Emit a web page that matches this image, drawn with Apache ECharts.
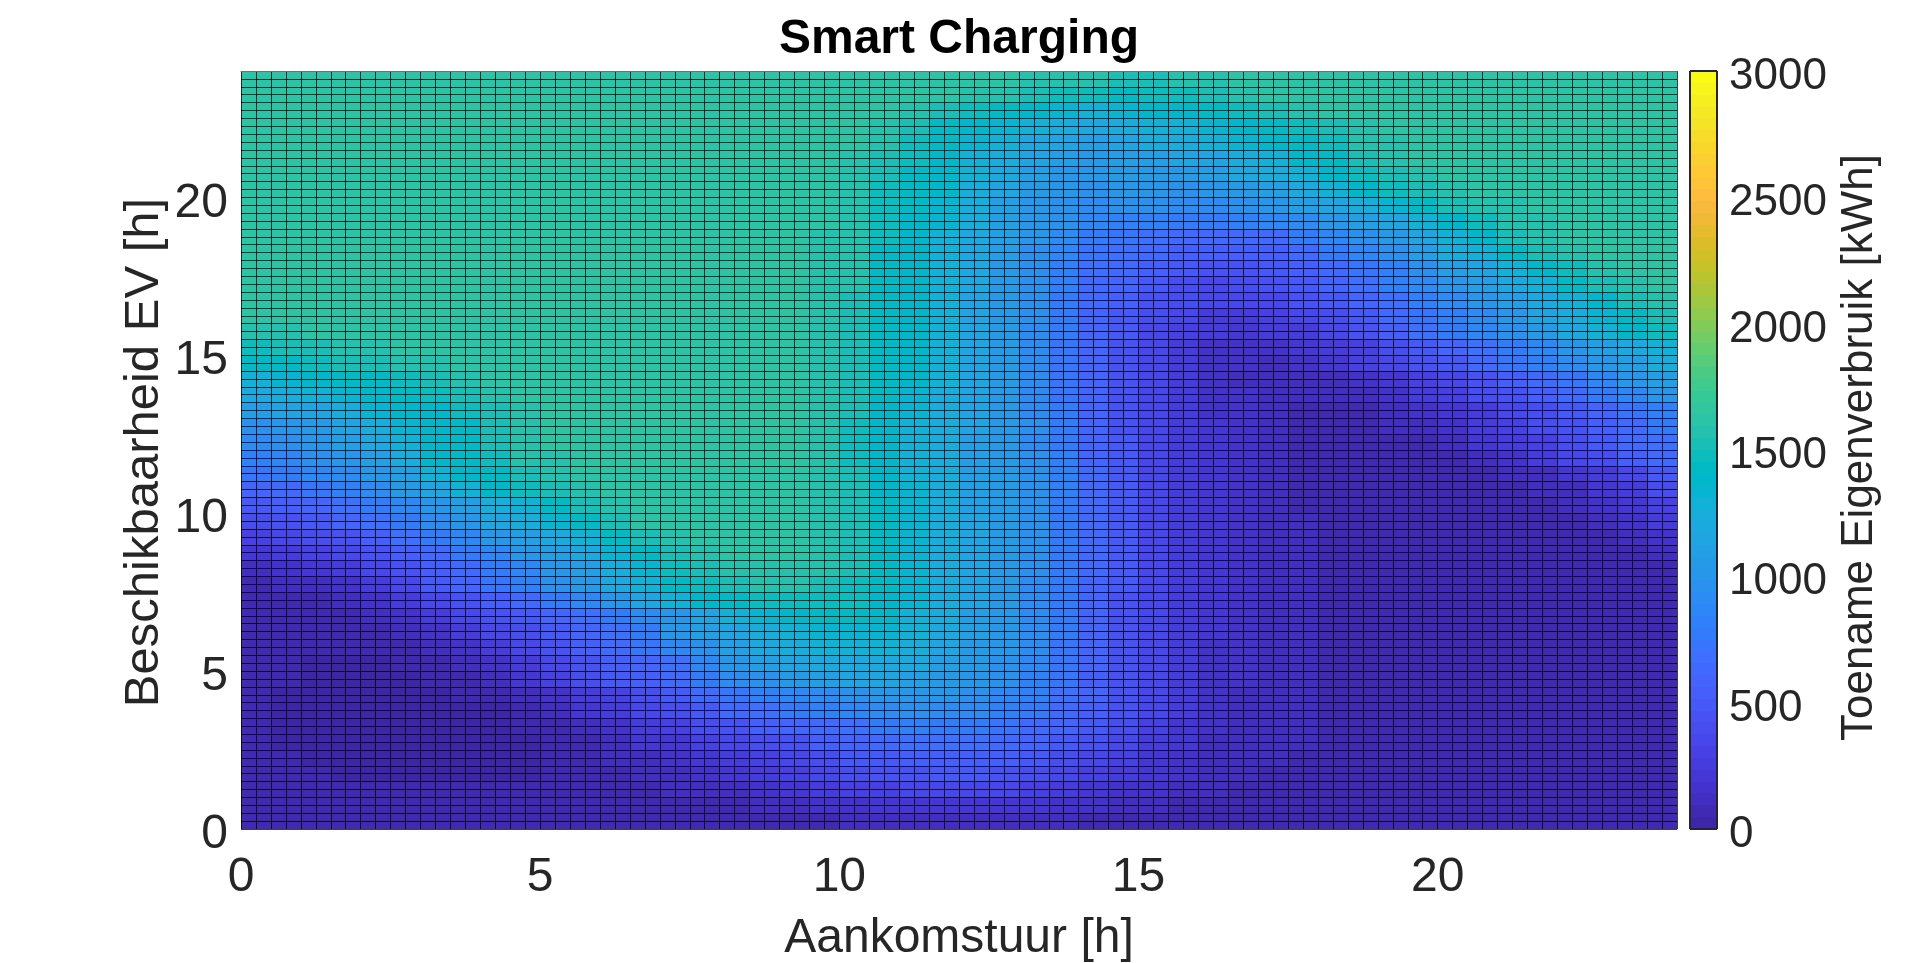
<!DOCTYPE html>
<html>
<head>
<meta charset="utf-8">
<title>Smart Charging</title>
<script src="https://cdn.jsdelivr.net/npm/echarts@6/dist/echarts.min.js"></script>
<style>
html, body { margin: 0; height: 100%; background: #fff; }
#main { width: 1920px; height: 963px; }
</style>
</head>
<body>
<div id="main"></div>
<script>
// kWh per half-hour block, estimated by eye from the colours of the reference.
// The reference has quarter-hour cells; these are coarser. Top row is 23.5-24 h.
const rows = [
[1620,1620,1620,1620,1620,1620,1620,1620,1620,1620,1620,1620,1620,1620,1620,1620,1620,1620,1620,1620,1620,1620,1620,1620,1610,1600,1580,1560,1550,1540,1540,1560,1580,1600,1620,1620,1620,1620,1620,1620,1620,1620,1620,1620,1620,1620,1620,1620],
[1620,1620,1620,1620,1620,1620,1620,1620,1620,1620,1620,1620,1620,1620,1620,1620,1620,1620,1620,1620,1620,1620,1610,1600,1590,1560,1530,1490,1460,1450,1470,1490,1530,1570,1610,1620,1620,1620,1620,1620,1620,1620,1620,1620,1620,1620,1620,1620],
[1620,1620,1620,1620,1620,1620,1620,1620,1620,1620,1620,1620,1620,1620,1620,1620,1620,1620,1620,1620,1620,1610,1580,1540,1480,1430,1400,1350,1310,1340,1380,1400,1440,1490,1540,1570,1600,1620,1620,1620,1620,1620,1620,1620,1620,1620,1620,1620],
[1620,1620,1620,1620,1620,1620,1620,1620,1620,1620,1620,1620,1620,1620,1620,1620,1620,1620,1620,1620,1610,1570,1500,1430,1370,1330,1280,1220,1190,1250,1300,1310,1340,1370,1410,1490,1540,1590,1620,1620,1620,1620,1620,1620,1620,1620,1620,1620],
[1620,1620,1620,1620,1620,1620,1620,1620,1620,1620,1620,1620,1620,1620,1620,1620,1620,1620,1620,1620,1600,1550,1480,1410,1340,1280,1210,1140,1100,1170,1220,1230,1280,1330,1370,1440,1490,1570,1590,1620,1620,1620,1620,1620,1620,1620,1620,1620],
[1620,1620,1620,1620,1620,1620,1620,1620,1620,1620,1620,1620,1620,1620,1620,1620,1620,1620,1620,1610,1590,1530,1460,1400,1310,1240,1130,1080,1050,1100,1120,1130,1170,1250,1310,1370,1430,1520,1570,1610,1620,1620,1620,1620,1620,1620,1620,1620],
[1620,1620,1620,1620,1620,1620,1620,1620,1620,1620,1620,1620,1620,1620,1620,1620,1620,1620,1620,1610,1580,1510,1440,1380,1280,1190,1090,1020,1000,1050,1070,1070,1110,1190,1230,1310,1380,1470,1520,1570,1600,1620,1620,1620,1620,1620,1620,1620],
[1620,1620,1620,1620,1620,1620,1620,1620,1620,1620,1620,1620,1620,1620,1620,1620,1620,1620,1620,1600,1570,1490,1420,1360,1260,1140,1040,1000,960,1000,1000,980,1000,1060,1110,1200,1280,1370,1460,1520,1570,1600,1620,1620,1620,1620,1620,1620],
[1620,1620,1620,1620,1620,1620,1620,1620,1620,1620,1620,1620,1620,1620,1620,1620,1620,1620,1620,1600,1570,1480,1410,1350,1240,1120,1030,980,930,950,960,900,900,950,1000,1090,1150,1240,1330,1420,1500,1560,1590,1620,1620,1620,1620,1620],
[1620,1620,1620,1620,1620,1620,1620,1620,1620,1620,1620,1620,1620,1620,1620,1620,1620,1620,1620,1600,1570,1470,1400,1320,1220,1110,1020,950,860,840,820,760,760,800,850,920,1000,1080,1170,1280,1400,1470,1560,1590,1620,1620,1620,1620],
[1620,1620,1620,1620,1620,1620,1620,1620,1620,1620,1620,1620,1620,1620,1620,1620,1620,1620,1620,1590,1560,1460,1400,1310,1210,1100,990,900,770,720,690,640,620,620,650,760,860,950,1040,1160,1300,1380,1500,1580,1610,1620,1620,1620],
[1620,1620,1620,1620,1620,1620,1620,1620,1620,1620,1620,1620,1620,1620,1620,1620,1620,1620,1620,1590,1550,1450,1390,1300,1200,1090,970,860,720,680,620,540,530,530,550,650,760,860,950,1090,1220,1310,1430,1520,1590,1610,1620,1620],
[1620,1620,1620,1620,1620,1620,1620,1620,1620,1620,1620,1620,1620,1620,1620,1620,1620,1620,1620,1590,1550,1440,1390,1290,1190,1070,960,820,700,640,560,500,430,450,470,530,620,730,840,950,1090,1170,1270,1380,1480,1550,1600,1620],
[1620,1620,1620,1620,1620,1620,1620,1620,1620,1620,1620,1620,1620,1620,1620,1620,1620,1620,1620,1590,1550,1430,1390,1280,1180,1060,950,800,640,570,470,410,370,410,450,510,590,690,810,900,1020,1120,1210,1310,1420,1510,1580,1610],
[1610,1620,1620,1620,1620,1620,1620,1620,1620,1620,1620,1620,1620,1620,1620,1620,1620,1620,1620,1590,1540,1440,1380,1280,1170,1060,940,780,610,520,430,390,330,340,370,440,490,590,700,800,900,1000,1090,1200,1300,1400,1510,1580],
[1600,1610,1620,1620,1620,1620,1620,1620,1620,1620,1620,1620,1620,1620,1620,1620,1620,1620,1620,1590,1540,1440,1380,1280,1170,1050,940,760,590,480,390,330,280,280,290,330,400,500,610,720,830,930,1010,1140,1250,1340,1440,1530],
[1570,1590,1610,1620,1620,1620,1620,1620,1620,1620,1620,1620,1620,1620,1620,1620,1620,1620,1620,1590,1530,1430,1380,1280,1170,1040,930,750,580,470,370,310,240,230,240,280,350,440,550,660,780,880,960,1070,1200,1280,1400,1480],
[1490,1510,1530,1560,1590,1610,1620,1620,1620,1620,1620,1620,1620,1620,1620,1620,1620,1620,1620,1590,1530,1430,1380,1280,1170,1040,930,740,570,450,350,260,180,170,170,200,250,320,420,510,580,690,780,890,1000,1110,1200,1310],
[1410,1440,1470,1510,1530,1560,1590,1610,1620,1620,1620,1620,1620,1620,1620,1620,1620,1620,1620,1590,1530,1430,1370,1270,1170,1040,930,740,570,450,340,240,160,150,140,160,210,290,350,460,510,630,710,820,900,1030,1120,1250],
[1300,1350,1380,1420,1450,1490,1520,1560,1600,1610,1620,1620,1620,1620,1620,1620,1620,1620,1620,1590,1520,1430,1360,1270,1170,1040,930,740,570,450,340,240,150,140,120,120,130,170,220,300,350,450,530,630,720,860,990,1090],
[1200,1240,1300,1340,1380,1420,1470,1510,1570,1600,1620,1620,1620,1620,1620,1620,1620,1620,1620,1590,1510,1420,1350,1260,1170,1040,930,740,570,450,340,240,160,150,120,110,110,140,180,250,300,380,450,530,640,750,860,1000],
[1080,1130,1170,1260,1320,1360,1400,1470,1530,1580,1620,1620,1620,1620,1620,1620,1620,1620,1620,1590,1500,1400,1340,1250,1170,1040,930,750,590,450,330,250,180,150,120,90,80,90,120,170,200,270,340,410,500,600,720,840],
[980,1030,1070,1150,1260,1320,1380,1440,1510,1570,1610,1620,1620,1620,1620,1620,1620,1620,1610,1570,1490,1380,1310,1240,1150,1050,950,770,600,460,340,260,190,150,110,80,70,80,100,140,170,240,310,380,450,540,640,770],
[910,960,1010,1080,1200,1270,1370,1420,1500,1560,1600,1620,1620,1620,1620,1620,1620,1620,1610,1570,1490,1380,1300,1220,1120,1040,920,760,590,470,350,270,190,150,110,80,70,70,80,90,120,190,260,320,420,490,610,700],
[800,870,950,1010,1120,1230,1360,1430,1490,1550,1590,1620,1620,1620,1620,1620,1620,1620,1610,1570,1490,1390,1310,1220,1120,1040,940,800,600,470,350,270,190,150,110,80,70,70,70,70,90,140,180,240,330,400,520,620],
[720,780,860,930,1020,1120,1270,1360,1440,1510,1560,1610,1620,1620,1620,1620,1620,1620,1610,1570,1500,1400,1310,1220,1110,1040,950,800,610,480,370,280,190,150,110,80,70,70,70,70,70,90,110,140,200,270,370,470],
[580,640,720,830,920,1040,1170,1290,1390,1470,1530,1590,1620,1620,1620,1620,1620,1620,1620,1580,1510,1400,1320,1230,1120,1040,950,800,620,480,370,280,190,150,110,90,70,70,70,70,70,70,80,110,140,190,280,390],
[500,560,600,660,760,860,1020,1110,1230,1310,1420,1500,1580,1610,1620,1620,1620,1620,1620,1590,1510,1420,1340,1240,1120,1050,950,790,620,480,370,280,190,150,110,90,70,70,70,70,70,70,70,90,110,150,220,300],
[390,440,500,570,680,760,920,1030,1130,1220,1330,1440,1540,1600,1620,1620,1620,1620,1620,1590,1510,1420,1340,1240,1130,1060,950,790,620,480,370,280,190,150,120,100,80,70,70,70,70,70,70,80,90,120,180,240],
[290,330,390,450,540,660,770,880,1000,1090,1210,1310,1420,1510,1580,1610,1620,1620,1620,1590,1510,1420,1340,1250,1140,1060,950,790,610,470,360,270,190,150,120,100,80,70,70,70,70,70,70,70,70,90,130,180],
[210,240,300,350,440,520,620,750,890,990,1110,1210,1320,1420,1540,1580,1600,1610,1610,1580,1510,1430,1350,1250,1140,1060,950,790,610,470,360,270,190,150,120,100,80,70,70,70,70,70,70,70,60,70,90,120],
[120,170,210,270,330,430,520,650,770,890,1010,1110,1240,1330,1460,1530,1570,1590,1590,1570,1510,1430,1340,1250,1140,1060,950,790,610,470,360,270,190,150,120,100,80,70,70,70,70,70,70,60,60,60,60,70],
[80,100,130,180,270,360,480,590,720,810,960,1060,1190,1290,1410,1470,1530,1550,1550,1540,1490,1420,1330,1250,1130,1050,930,780,600,470,350,270,190,150,120,100,80,70,70,70,70,70,70,60,60,60,60,60],
[50,60,80,100,170,240,340,440,550,640,780,870,1030,1130,1270,1360,1430,1460,1480,1480,1470,1400,1320,1240,1130,1050,930,770,590,460,350,270,190,150,120,100,80,70,70,70,70,70,70,60,60,60,60,60],
[50,60,60,80,120,180,260,340,430,510,590,690,790,900,1030,1150,1270,1350,1400,1430,1430,1380,1300,1230,1120,1040,930,770,590,460,350,270,190,150,120,100,80,70,70,70,70,70,70,60,60,60,60,60],
[60,60,60,60,60,110,170,250,340,420,510,590,700,790,990,1080,1170,1250,1310,1340,1350,1330,1270,1190,1090,1020,920,760,590,460,350,270,190,150,120,100,80,70,70,70,70,70,70,60,60,60,60,60],
[60,50,50,50,50,80,110,180,260,350,430,530,610,720,860,980,1090,1190,1240,1280,1300,1280,1230,1160,1060,1000,900,740,580,450,340,260,180,150,120,100,80,70,70,70,70,70,70,60,60,60,50,50],
[50,50,40,40,40,50,70,120,180,280,370,460,540,600,700,860,1000,1080,1150,1190,1200,1200,1180,1110,1040,970,860,720,570,440,330,250,180,150,120,100,80,70,70,70,70,70,70,60,60,60,50,50],
[50,50,40,40,40,40,50,90,130,220,310,390,480,530,610,770,900,980,1060,1100,1130,1130,1120,1070,1010,950,840,710,560,440,330,250,180,150,120,100,80,70,70,70,70,70,70,60,60,60,50,50],
[50,40,40,40,40,40,30,50,60,110,170,270,320,400,490,610,710,800,880,930,960,1000,1020,1000,960,890,800,680,570,440,340,250,170,140,120,100,80,70,70,70,70,70,70,60,60,60,50,50],
[50,40,40,40,40,40,30,40,40,60,110,190,240,330,400,490,610,680,760,830,880,930,950,930,900,840,760,650,550,430,330,240,160,140,110,100,80,70,70,70,70,70,60,60,60,60,50,50],
[50,40,40,40,40,40,40,40,40,50,70,120,180,240,310,380,460,520,570,630,690,750,800,790,760,720,650,570,500,390,300,220,150,130,110,100,80,70,70,70,70,60,60,60,60,60,50,50],
[50,40,40,40,40,40,40,40,40,40,60,90,130,190,230,290,340,400,460,520,590,640,680,680,670,620,570,490,430,340,270,200,140,120,110,100,80,70,70,70,70,60,60,60,60,50,50,50],
[50,50,40,40,40,40,40,40,40,40,50,70,110,140,180,220,270,310,370,420,470,500,550,560,560,520,490,410,360,290,230,170,130,110,100,90,80,70,70,70,70,60,60,60,50,50,50,50],
[50,50,50,40,40,40,40,40,40,40,50,60,80,110,130,170,200,250,310,350,400,430,460,480,480,450,420,350,290,240,190,150,110,100,90,90,70,70,70,60,60,60,60,60,50,50,50,50],
[50,50,50,50,50,50,50,50,50,50,50,60,70,90,100,130,140,180,220,260,290,320,340,360,360,340,310,260,220,180,150,110,100,90,80,80,70,70,60,60,60,60,50,50,50,50,50,50],
[50,50,50,50,50,50,50,50,50,50,50,50,60,60,70,80,90,110,140,160,170,190,200,210,220,210,190,170,150,130,100,90,80,80,70,70,60,60,60,60,60,50,50,50,50,50,50,50],
[50,50,50,50,50,50,50,50,50,50,50,50,50,60,60,60,70,70,80,90,100,110,120,120,120,120,110,100,90,80,70,70,60,60,60,60,60,50,50,50,50,50,50,50,50,50,50,50]
];

const xTicks = [0, 5, 10, 15, 20];
const yTicks = [0, 5, 10, 15, 20];
const barTicks = [0, 500, 1000, 1500, 2000, 2500, 3000];

const parula = [
[.2422,.1504,.6603],[.2504,.1650,.7076],[.2578,.1818,.7511],[.2647,.1978,.7952],
[.2706,.2147,.8364],[.2751,.2342,.8710],[.2783,.2559,.8991],[.2803,.2782,.9221],
[.2813,.3006,.9414],[.2810,.3228,.9579],[.2795,.3447,.9717],[.2760,.3667,.9829],
[.2699,.3892,.9906],[.2602,.4123,.9952],[.2440,.4358,.9988],[.2206,.4603,.9973],
[.1963,.4847,.9892],[.1834,.5074,.9798],[.1786,.5289,.9682],[.1764,.5499,.9520],
[.1687,.5703,.9359],[.1540,.5902,.9218],[.1460,.6091,.9079],[.1380,.6276,.8973],
[.1248,.6459,.8883],[.1113,.6635,.8763],[.0952,.6798,.8598],[.0689,.6948,.8394],
[.0297,.7082,.8163],[.0036,.7197,.7917],[.0067,.7300,.7655],[.0433,.7394,.7397],
[.0964,.7500,.7120],[.1408,.7584,.6842],[.1717,.7670,.6554],[.1938,.7758,.6251],
[.2161,.7843,.5923],[.2470,.7918,.5567],[.2906,.7973,.5188],[.3406,.8008,.4789],
[.3909,.8029,.4354],[.4456,.8024,.3909],[.5044,.7993,.3480],[.5616,.7942,.3045],
[.6174,.7876,.2612],[.6720,.7793,.2227],[.7242,.7698,.1910],[.7738,.7598,.1646],
[.8203,.7498,.1535],[.8634,.7406,.1596],[.9035,.7330,.1774],[.9393,.7288,.2100],
[.9728,.7298,.2394],[.9956,.7434,.2371],[.9970,.7659,.2199],[.9952,.7893,.2028],
[.9892,.8136,.1885],[.9786,.8386,.1766],[.9676,.8639,.1643],[.9610,.8890,.1537],
[.9597,.9135,.1423],[.9628,.9373,.1265],[.9691,.9606,.1064],[.9769,.9839,.0805]
];

const maxValue = 3000;
const levelSize = maxValue / parula.length;
const blockHours = 24 / rows[0].length;
const textColor = "#262626";
const fontFamily = '"Liberation Sans", Arial, sans-serif';

function toCss(c) {
  return "rgb(" + c.map(v => Math.round(v * 255)).join(",") + ")";
}
function colorOf(value) {
  let i = Math.min(parula.length - 1, Math.floor(value / levelSize));
  return toCss(parula[i]);
}

// [start hour x, start hour y, kWh]
let cells = [];
rows.forEach((row, r) => {
  row.forEach((v, c) => {
    cells.push([c * blockHours, (rows.length - 1 - r) * blockHours, v]);
  });
});
let barLevels = parula.map((c, i) => [0, i * levelSize, i]);

function rectFrom(api, x0, y0, x1, y1, fill) {
  let a = api.coord([x0, y1]);
  let b = api.coord([x1, y0]);
  return {
    type: "rect",
    shape: {
      x: Math.round(a[0]),
      y: Math.round(a[1]),
      width: Math.round(b[0]) - Math.round(a[0]),
      height: Math.round(b[1]) - Math.round(a[1])
    },
    style: { fill: fill }
  };
}

const tickStyle = { color: textColor, fontSize: 48, fontFamily: fontFamily };
const nameStyle = { color: textColor, fontSize: 48, fontFamily: fontFamily };
const gridLine = { show: true, lineStyle: { color: "#000", width: 1, opacity: 0.75 } };
const hide = {
  axisLabel: { show: false },
  axisTick: { show: false },
  axisLine: { show: false }
};

const option = {
  animation: false,
  backgroundColor: "#fff",
  title: {
    text: "Smart Charging",
    left: 954,
    top: 11,
    textAlign: "center",
    textStyle: { color: "#000", fontSize: 48, fontWeight: "bold", fontFamily: fontFamily }
  },
  grid: [
    { left: 241, top: 71, width: 1436, height: 758, outerBoundsMode: "none" },
    { left: 1690, top: 71, width: 27, height: 758, outerBoundsMode: "none" }
  ],
  xAxis: [
    {
      type: "value", gridIndex: 0, min: 0, max: 24, interval: 5,
      name: "Aankomstuur [h]", nameLocation: "middle", nameGap: 86, nameTextStyle: nameStyle,
      axisLine: { show: false }, axisTick: { show: false }, splitLine: { show: false },
      axisLabel: {
        ...tickStyle, margin: 25, hideOverlap: false,
        formatter: v => (xTicks.includes(v) ? String(v) : "")
      }
    },
    {
      // quarter-hour cell lines
      type: "value", gridIndex: 0, min: 0, max: 24, interval: 0.25, position: "top", z: 5,
      axisLabel: { show: false }, axisTick: { show: false },
      axisLine: { show: true, onZero: false, lineStyle: { color: "#707070", width: 1 } },
      splitLine: gridLine
    },
    {
      type: "value", gridIndex: 1, min: 0, max: 1, interval: 1, z: 5, ...hide,
      splitLine: { show: true, lineStyle: { color: textColor, width: 2 } }
    }
  ],
  yAxis: [
    {
      type: "value", gridIndex: 0, min: 0, max: 24, interval: 5,
      name: "Beschikbaarheid EV [h]", nameLocation: "middle", nameGap: 72, nameMoveOverlap: false,
      nameTextStyle: { ...nameStyle, fontSize: 49, padding: [0, 5, 0, 0] },
      axisLine: { show: false }, axisTick: { show: false }, splitLine: { show: false },
      axisLabel: {
        margin: 13,
        formatter: v => (yTicks.includes(v) ? "{t|" + v + "}" : ""),
        rich: { t: { ...tickStyle, padding: [12, 0, 0, 0] } }
      }
    },
    {
      type: "value", gridIndex: 0, min: 0, max: 24, interval: 0.25, position: "right", z: 5, ...hide,
      splitLine: gridLine
    },
    {
      type: "value", gridIndex: 1, min: 0, max: maxValue, interval: 500, position: "right",
      name: "Toename Eigenverbruik [kWh]", nameLocation: "middle", nameRotate: 90, nameGap: 121,
      nameTextStyle: { ...nameStyle, fontSize: 44, padding: [0, 0, 0, 5] },
      axisLine: { show: false }, axisTick: { show: false }, splitLine: { show: false },
      axisLabel: {
        margin: 12,
        formatter: v => (barTicks.includes(v) ? "{t|" + v + "}" : ""),
        rich: { t: { ...tickStyle, fontSize: 44, padding: [12, 0, 0, 0] } }
      }
    },
    {
      type: "value", gridIndex: 1, min: 0, max: maxValue, interval: maxValue, position: "left", z: 5, ...hide,
      splitLine: { show: true, lineStyle: { color: textColor, width: 2 } }
    }
  ],
  series: [
    {
      type: "custom",
      xAxisIndex: 0,
      yAxisIndex: 0,
      clip: true,
      progressive: 0,
      encode: { x: 0, y: 1 },
      data: cells,
      renderItem: (params, api) => {
        let x = api.value(0);
        let y = api.value(1);
        return rectFrom(api, x, y, x + blockHours, y + blockHours, colorOf(api.value(2)));
      }
    },
    {
      type: "custom",
      xAxisIndex: 2,
      yAxisIndex: 2,
      progressive: 0,
      encode: { x: 0, y: 1 },
      data: barLevels,
      renderItem: (params, api) => {
        let y = api.value(1);
        return rectFrom(api, 0, y, 1, y + levelSize, toCss(parula[api.value(2)]));
      }
    }
  ]
};

let myCharts = echarts.init(document.getElementById("main"));
myCharts.setOption(option);
</script>
</body>
</html>
